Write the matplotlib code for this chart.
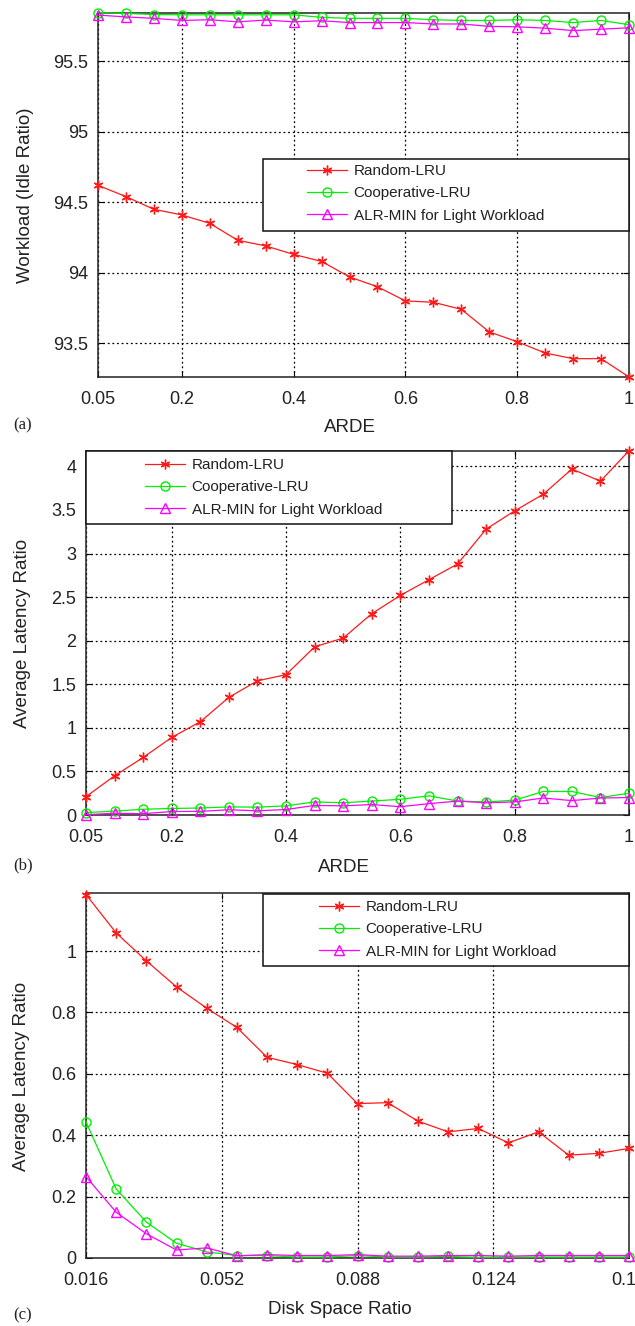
import matplotlib
matplotlib.use("Agg")
import matplotlib.pyplot as plt
from matplotlib import font_manager
from matplotlib.patches import Rectangle
from matplotlib.ticker import FixedLocator, FixedFormatter

# ---------------- data ----------------
series_names = ["Random-LRU", "Cooperative-LRU", "ALR-MIN for Light Workload"]

x_ab = [0.05, 0.10, 0.15, 0.20, 0.25, 0.30, 0.35, 0.40, 0.45, 0.50,
        0.55, 0.60, 0.65, 0.70, 0.75, 0.80, 0.85, 0.90, 0.95, 1.00]
x_c = [0.016, 0.024, 0.032, 0.040, 0.048, 0.056, 0.064, 0.072, 0.080, 0.088,
       0.096, 0.104, 0.112, 0.120, 0.128, 0.136, 0.144, 0.152, 0.160]

a_random = [94.62, 94.54, 94.45, 94.41, 94.35, 94.23, 94.19, 94.13, 94.08, 93.97,
            93.90, 93.80, 93.79, 93.74, 93.58, 93.51, 93.43, 93.39, 93.39, 93.26]
a_coop = [95.845, 95.840, 95.832, 95.830, 95.830, 95.830, 95.830, 95.830, 95.812, 95.805,
          95.805, 95.805, 95.795, 95.790, 95.790, 95.795, 95.790, 95.775, 95.790, 95.760]
a_alr = [95.828, 95.815, 95.805, 95.790, 95.795, 95.780, 95.793, 95.780, 95.788, 95.775,
         95.775, 95.775, 95.765, 95.765, 95.748, 95.745, 95.735, 95.718, 95.728, 95.738]

b_random = [0.21, 0.45, 0.66, 0.89, 1.07, 1.35, 1.54, 1.61, 1.93, 2.03,
            2.31, 2.52, 2.70, 2.88, 3.28, 3.49, 3.68, 3.97, 3.83, 4.18]
b_coop = [0.028, 0.044, 0.066, 0.075, 0.080, 0.093, 0.090, 0.105, 0.150, 0.140,
          0.160, 0.180, 0.220, 0.160, 0.150, 0.170, 0.270, 0.270, 0.200, 0.250]
b_alr = [0.004, 0.020, 0.015, 0.040, 0.042, 0.060, 0.048, 0.063, 0.110, 0.105,
         0.120, 0.095, 0.130, 0.160, 0.140, 0.150, 0.195, 0.165, 0.195, 0.200]

c_random = [1.184, 1.059, 0.968, 0.883, 0.814, 0.751, 0.654, 0.630, 0.602, 0.503,
            0.506, 0.446, 0.411, 0.422, 0.375, 0.411, 0.335, 0.341, 0.357]
c_coop = [0.443, 0.225, 0.117, 0.048, 0.020, 0.008, 0.008, 0.003, 0.003, 0.008,
          0.003, 0.003, 0.005, 0.002, 0.003, 0.003, 0.003, 0.003, 0.003]
c_alr = [0.265, 0.149, 0.079, 0.026, 0.033, 0.007, 0.011, 0.008, 0.008, 0.011,
         0.006, 0.006, 0.008, 0.008, 0.006, 0.008, 0.008, 0.008, 0.008]

xticks_ab = [0.05, 0.2, 0.4, 0.6, 0.8, 1.0]
xticklabels_ab = ["0.05", "0.2", "0.4", "0.6", "0.8", "1"]
xticks_c = [0.016, 0.052, 0.088, 0.124, 0.16]
xticklabels_c = ["0.016", "0.052", "0.088", "0.124", "0.16"]
yticks_a = [93.5, 94, 94.5, 95, 95.5]
yticklabels_a = ["93.5", "94", "94.5", "95", "95.5"]
yticks_b = [0, 0.5, 1, 1.5, 2, 2.5, 3, 3.5, 4]
yticklabels_b = ["0", "0.5", "1", "1.5", "2", "2.5", "3", "3.5", "4"]
yticks_c = [0, 0.2, 0.4, 0.6, 0.8, 1]
yticklabels_c = ["0", "0.2", "0.4", "0.6", "0.8", "1"]

# ---------------- style ----------------
W, H = 635, 1326
plt.rcParams['font.family'] = ['Liberation Sans', 'DejaVu Sans']
names = {f.name for f in font_manager.fontManager.ttflist}
if 'Liberation Sans Narrow' in names:
    leg_family, leg_size = ['Liberation Sans Narrow', 'DejaVu Sans'], 13
else:
    leg_family, leg_size = ['Liberation Sans', 'DejaVu Sans'], 11

colors = ['#ff1a1a', '#00f000', '#ff00ff']
markers = [(6, 2, 0), 'o', '^']
text_col = '#222222'

fig = plt.figure(figsize=(W / 100, H / 100), dpi=100)


def fx(px):
    return px / W


def fy(py):
    return 1 - py / H


panels = [
    dict(rect=(98, 12.7, 629, 376.7), x=x_ab, ys=[a_random, a_coop, a_alr],
         xlim=(0.05, 1.0), ylim=(93.262, 95.845), xt=xticks_ab, xtl=xticklabels_ab,
         yt=yticks_a, ytl=yticklabels_a, ylabel="Workload (Idle Ratio)", xlabel="ARDE",
         ylab_pos=(26, 195), xlab_pos=(350, 428), tag="(a)", tag_y=425,
         legbox=(263, 159, 629, 231), leg_anchor=(307, 164)),
    dict(rect=(86, 450.7, 629, 815), x=x_ab, ys=[b_random, b_coop, b_alr],
         xlim=(0.05, 1.0), ylim=(0, 4.18), xt=xticks_ab, xtl=xticklabels_ab,
         yt=yticks_b, ytl=yticklabels_b, ylabel="Average Latency Ratio", xlabel="ARDE",
         ylab_pos=(23, 633), xlab_pos=(344, 867), tag="(b)", tag_y=865,
         legbox=(86, 451, 452, 524), leg_anchor=(145, 458)),
    dict(rect=(86, 893.3, 629, 1258), x=x_c, ys=[c_random, c_coop, c_alr],
         xlim=(0.016, 0.16), ylim=(0, 1.188), xt=xticks_c, xtl=xticklabels_c,
         yt=yticks_c, ytl=yticklabels_c, ylabel="Average Latency Ratio",
         xlabel="Disk Space Ratio",
         ylab_pos=(22, 1076), xlab_pos=(340, 1310), tag="(c)", tag_y=1315,
         legbox=(263, 893.5, 629, 966), leg_anchor=(319, 900)),
]

for p in panels:
    l, t, r, b = p['rect']
    ax = fig.add_axes([fx(l), fy(b), (r - l) / W, (b - t) / H])
    for k in range(3):
        mfc = colors[k] if k == 0 else 'none'
        ax.plot(p['x'], p['ys'][k], color=colors[k], lw=0.9, marker=markers[k],
                ms=7 if k == 0 else 6.5, mfc=mfc, mec=colors[k], mew=1.0,
                label=series_names[k], clip_on=False, zorder=3)
    ax.set_xlim(*p['xlim'])
    ax.set_ylim(*p['ylim'])
    ax.xaxis.set_major_locator(FixedLocator(p['xt']))
    ax.xaxis.set_major_formatter(FixedFormatter(p['xtl']))
    ax.yaxis.set_major_locator(FixedLocator(p['yt']))
    ax.yaxis.set_major_formatter(FixedFormatter(p['ytl']))
    ax.grid(True, color='black', linestyle=(0, (1.5, 2.2)), linewidth=0.9)
    ax.set_axisbelow(True)
    ax.tick_params(direction='in', length=4, width=0.8, top=True, right=True,
                   labelsize=13, labelcolor=text_col, pad=7)
    ax.tick_params(axis='x', pad=10)
    for s in ax.spines.values():
        s.set_color('#222222')
        s.set_linewidth(1.1)
    ax.set_ylabel(p['ylabel'], fontsize=13.5, color=text_col, va='center', ha='center')
    ax.yaxis.set_label_coords(fx(p['ylab_pos'][0]), fy(p['ylab_pos'][1]),
                              transform=fig.transFigure)
    ax.set_xlabel(p['xlabel'], fontsize=13.5, color=text_col, va='center', ha='center')
    ax.xaxis.set_label_coords(fx(p['xlab_pos'][0]), fy(p['xlab_pos'][1]),
                              transform=fig.transFigure)
    # legend box
    bl, bt, br, bb = p['legbox']
    box = Rectangle((fx(bl), fy(bb)), (br - bl) / W, (bb - bt) / H,
                    transform=fig.transFigure, facecolor='white', edgecolor='#111111',
                    linewidth=1.1, zorder=4, clip_on=False)
    ax.add_artist(box)
    leg = ax.legend(loc='upper left', bbox_to_anchor=(fx(p['leg_anchor'][0]), fy(p['leg_anchor'][1])),
                    bbox_transform=fig.transFigure, frameon=False, borderpad=0,
                    borderaxespad=0, handlelength=2.6, handletextpad=0.45,
                    labelspacing=0.55, prop={'family': leg_family, 'size': leg_size})
    leg.set_zorder(5)
    for txt in leg.get_texts():
        txt.set_color(text_col)
    fig.text(fx(13), fy(p['tag_y']), p['tag'], family=['Liberation Serif', 'DejaVu Serif'],
             fontsize=12, va='center', ha='left', color=text_col)

fig.savefig("out.png", dpi=100)
